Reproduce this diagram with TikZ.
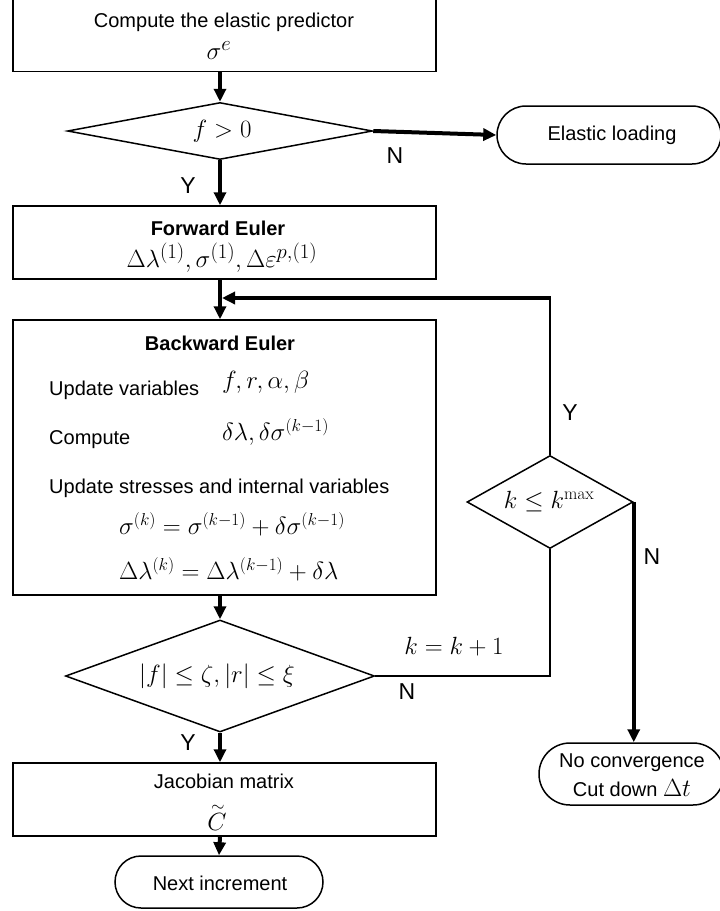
\documentclass[tikz,border=0pt]{standalone}
\usepackage[no-math]{fontspec}
\setmainfont{Liberation Sans}
\usetikzlibrary{shapes.geometric,shapes.misc,arrows.meta}
\tikzset{
 box/.style={draw, line width=1.5pt, minimum width=423pt, inner sep=0pt},
 dia/.style={diamond, draw, line width=1.5pt, inner sep=0pt},
 term/.style={rounded rectangle, draw, line width=1.5pt, inner sep=0pt},
 arr/.style={line width=4pt, -{Triangle[length=13pt,width=12pt]}},
 ln/.style={line width=2.5pt},
 lbl/.style={font=\fontsize{20}{24}\selectfont, inner sep=0pt},
 yn/.style={font=\fontsize{23}{26}\selectfont, inner sep=0pt},
 blbl/.style={font=\fontsize{20}{24}\selectfont\bfseries, inner sep=0pt},
 mth/.style={font=\fontsize{26}{30}\selectfont, inner sep=0pt},
}
\begin{document}
\begin{tikzpicture}[x=1pt,y=-1pt]
\useasboundingbox (0,0) rectangle (720,911);
% shapes
\node[box, minimum height=72pt] (b1) at (224.5,35.5) {};
\node[dia, minimum width=305pt, minimum height=57pt, aspect=5.3] (d1) at (220,131) {};
\node[term, minimum width=224pt, minimum height=58pt] (el) at (609,135) {};
\node[box, minimum height=73pt] (b2) at (224.5,242.5) {};
\node[box, minimum height=275pt] (b3) at (224.5,457.5) {};
\node[dia, minimum width=166pt, minimum height=93pt, aspect=1.8] (dk) at (550,502) {};
\node[dia, minimum width=309pt, minimum height=112pt, aspect=2.75] (d2) at (220,676) {};
\node[term, minimum width=185pt, minimum height=62pt] (nc) at (631.5,774) {};
\node[box, minimum height=73pt] (b4) at (224.5,799.5) {};
\node[term, minimum width=208pt, minimum height=52pt] (ni) at (219,882) {};
\coordinate (loopin) at (222,298);
% texts
\node[lbl] (t1) at (224,22) {Compute the elastic predictor};
\node[mth, font=\fontsize{30}{34}\selectfont] (m1) at (219,51) {$\sigma^{e}$};
\node[mth, font=\fontsize{28}{32}\selectfont] (m2) at (222,131) {$f>0$};
\node[lbl] (t2) at (612,135) {Elastic loading};
\node[blbl] (t3) at (218,228) {Forward Euler};
\node[mth, font=\fontsize{30}{34}\selectfont] (m3) at (222,258) {$\Delta\lambda^{(1)},\sigma^{(1)},\Delta\varepsilon^{p,(1)}$};
\node[blbl] (t4) at (220,343) {Backward Euler};
\node[lbl, anchor=west] (t5) at (49,390) {Update variables};
\node[mth, anchor=west, font=\fontsize{27}{31}\selectfont] (m4) at (222,382) {$f,r,\alpha,\beta$};
\node[lbl, anchor=west] (t6) at (49,440) {Compute};
\node[mth, anchor=west, font=\fontsize{27}{31}\selectfont] (m5) at (222,432) {$\delta\lambda,\delta\sigma^{(k-1)}$};
\node[lbl, anchor=west] (t7) at (49,488) {Update stresses and internal variables};
\node[mth, anchor=west] (m6) at (119,524) {$\sigma^{(k)}=\sigma^{(k-1)}+\delta\sigma^{(k-1)}$};
\node[mth, anchor=west] (m7) at (119,569) {$\Delta\lambda^{(k)}=\Delta\lambda^{(k-1)}+\delta\lambda$};
\node[mth] (m8) at (549,502) {$k\le k^{\max}$};
\node[mth] (m9) at (217,676) {$|f|\le\zeta,|r|\le\xi$};
\node[mth, font=\fontsize{24}{28}\selectfont] (m10) at (454,647) {$k=k+1$};
\node[lbl] (t8) at (224,781) {Jacobian matrix};
\node[mth] (m11) at (217,817) {$\stackrel{\sim}{C}$};
\node[lbl] (t9) at (220,883) {Next increment};
\node[lbl] (t10) at (632,763) {No convergence};
\node[lbl] (t11) at (632,788) {Cut down \fontsize{26}{30}\selectfont$\Delta t$};
\node[yn] (y1) at (188,186) {Y};
\node[yn] (n1) at (395,156) {N};
\node[yn] (y2) at (570,413) {Y};
\node[yn] (n2) at (652,557) {N};
\node[yn] (n3) at (407,692) {N};
\node[yn] (y3) at (188,743) {Y};
% connectors
\draw[arr] (b1.south -| d1.north) -- (d1.north);
\draw[arr] (d1.east) -- (el.west);
\draw[arr] (d1.south) -- (d1.south |- b2.north);
\draw[arr] (d1.south |- b2.south) -- (d1.south |- b3.north);
\draw[ln] (dk.north) -- ([yshift=-1.5pt]dk.north |- loopin);
\draw[arr] ([xshift=1.2pt]dk.north |- loopin) -- (loopin);
\draw[arr] (d1.south |- b3.south) -- (d2.north);
\draw[ln] (d2.east) -| (dk.south);
\draw[arr] (dk.east) -- (dk.east |- nc.north);
\draw[arr] (d2.south) -- (d2.south |- b4.north);
\draw[arr] (d2.south |- b4.south) -- (ni.north);
\end{tikzpicture}
\end{document}
